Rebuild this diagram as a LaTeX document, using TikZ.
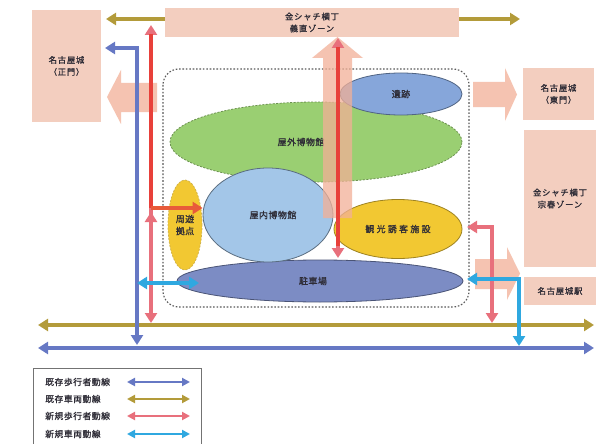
\documentclass[tikz,border=0pt]{standalone}
\usepackage{fontspec}
\setmainfont{Noto Sans CJK JP}[FakeBold=1.2]
\usetikzlibrary{arrows.meta,shapes.geometric}
\definecolor{boxpink}{HTML}{F3CEBF}
\definecolor{bigarrow}{HTML}{F2B097}
\definecolor{lnolive}{HTML}{B39B3A}
\definecolor{lnblue}{HTML}{6678C4}
\definecolor{lnred}{HTML}{E8707C}
\definecolor{lnredd}{HTML}{E8403A}
\definecolor{lnorange}{HTML}{E85A3A}
\definecolor{lncyan}{HTML}{2FA8E0}
\definecolor{elgreen}{HTML}{9ACF72}
\definecolor{elblue}{HTML}{86A6DA}
\definecolor{ellight}{HTML}{A3C6E8}
\definecolor{elyellow}{HTML}{F2C832}
\definecolor{elpark}{HTML}{7C8CC4}
\definecolor{txt}{HTML}{2E2C36}
\newcommand{\boxfont}{\fontsize{8.3}{12}\selectfont\addfontfeatures{LetterSpace=10}}
\newcommand{\ellfont}{\fontsize{9}{12}\selectfont\addfontfeatures{LetterSpace=5}}
\tikzset{
  ftip/.tip={Triangle[width=12pt,length=10pt]},
  ltip/.tip={Triangle[width=8pt,length=8pt]},
  zone/.style={fill=boxpink, draw=none, font=\boxfont, text=txt, align=center, inner sep=0pt},
  ell/.style={ellipse, line width=0.8pt, inner sep=0pt, font=\ellfont, text=txt, align=center},
  elllab/.style={font=\ellfont, text=txt, align=center, inner sep=0pt},
  bigarr/.style={fill=bigarrow, draw=none, opacity=0.75},
  flow/.style={line width=3.8pt, arrows={ftip-ftip}},
  flowend/.style={line width=3.8pt, arrows={-ftip}},
  legflow/.style={line width=2.6pt, arrows={ltip-ltip}},
  legtxt/.style={anchor=west, font=\fontsize{8.8}{10}\selectfont\addfontfeatures{LetterSpace=6}, text=txt, inner sep=0pt},
}
\begin{document}
\begin{tikzpicture}[x=1pt,y=-1pt]
\useasboundingbox (0,0) rectangle (608,444);
\fill[white] (0,0) rectangle (608,444);

% olive top line (under the top box)
\coordinate (ot1) at (106,19);
\coordinate (ot2) at (520,19);
\draw[flow, lnolive] (ot1) -- (ot2);

% zone boxes
\node[zone, minimum width=69pt, minimum height=112pt] (seimon) at (66.5,66) {名古屋城\\（正門）};
\node[zone, minimum width=294pt, minimum height=29pt] (yoshi) at (312,22.5) {金シャチ横丁\\義直ゾーン};
\node[zone, minimum width=71pt, minimum height=52pt] (tomon) at (558.5,94) {名古屋城\\（東門）};
\node[zone, minimum width=72pt, minimum height=137pt] (mune) at (560,198.5) {金シャチ横丁\\宗春ゾーン};
\node[zone, minimum width=72pt, minimum height=28pt] (eki) at (560,291) {名古屋城駅};

% dotted area
\draw[line width=1.1pt, dash pattern=on 1.6pt off 1.8pt, color=black!65, rounded corners=16pt] (163,69) rectangle (469,307);

% ellipses
\node[ell, draw=elgreen!70!black, fill=elgreen, dash pattern=on 2pt off 1.5pt, minimum width=292pt, minimum height=80pt,
      label={[elllab]center:{\hspace*{-30pt}屋外博物館}}] (outm) at (316,142) {};
\node[ell, draw=elblue!60!black, fill=elblue, minimum width=122pt, minimum height=42pt] (iseki) at (401,94) {遺跡};
\node[ell, draw=elyellow!70!gray, fill=elyellow, dash pattern=on 2pt off 1.5pt, minimum width=34pt, minimum height=90pt] (shuyu) at (185,225) {周遊\\拠点};
\node[ell, draw=elpark!60!black, fill=elpark, minimum width=286pt, minimum height=42pt,
      label={[elllab]center:{\hspace*{-14pt}駐車場}}] (park) at (320,281) {};
\node[ell, draw=ellight!55!black, fill=ellight, minimum width=130pt, minimum height=94pt,
      label={[elllab]center:{\hspace*{10pt}屋内博物館}}] (inm) at (268,215) {};
\node[ell, draw=elyellow!65!black, fill=elyellow, minimum width=128pt, minimum height=59pt] (kanko) at (398,229) {\addfontfeatures{LetterSpace=25}観光誘客施設};

% big pale arrows
\fill[bigarr] (157,83) -- (121,83) -- (121,70) -- (107,97) -- (121,124) -- (121,112) -- (157,112) -- cycle;
\fill[bigarr] (323,218) -- (323,58) -- (312,58) -- (337.5,37) -- (363,58) -- (352,58) -- (352,218) -- cycle;
\fill[bigarr] (473,82) -- (505,82) -- (505,68) -- (517,94.5) -- (505,121) -- (505,107) -- (473,107) -- cycle;
\fill[bigarr] (475,259) -- (507,259) -- (507,247) -- (520,273.5) -- (507,300) -- (507,289) -- (475,289) -- cycle;

% bottom lines
\coordinate (ob1) at (38,325);
\coordinate (ob2) at (594,325);
\coordinate (bb1) at (38,348);
\coordinate (bb2) at (594,348);
\draw[flow, lnolive] (ob1) -- (ob2);
\draw[flow, lnblue] (bb1) -- (bb2);

% existing pedestrian (blue) from west gate
\coordinate (b1) at (105,48);
\coordinate (b2) at (137,48);
\coordinate (b3) at (137,345);
\draw[flow, lnblue] (b1) -- (b2) -- (b3);

% new pedestrian (red), left
\coordinate (r1) at (151,25);
\coordinate (r2) at (151,323);
\coordinate (rj) at (151,208);
\coordinate (rm) at (151,234);
\coordinate (rm2) at (151,212);
\draw[flow, lnred] (r1) -- (r2);
\draw[line width=3.8pt, lnredd] (151,34) -- (rj);
\draw[flowend, lnred] (rm) -- (rm2);
\draw[flowend, lnorange] (rj) -- (rj -| inm.west);

% new pedestrian (red), centre
\coordinate (c1) at (338,38);
\coordinate (c2) at (338,258);
\draw[flow, lnred] (c1) -- (c2);
\draw[line width=3.8pt, lnredd] (338,47) -- (338,246);

% new pedestrian (red), right
\coordinate (rr1) at (467,227);
\coordinate (rr2) at (492,227);
\coordinate (rr3) at (492,323);
\draw[flow, lnred] (rr1) -- (rr2) -- (rr3);

% new vehicle (cyan)
\coordinate (cl1) at (137,283);
\coordinate (cl2) at (199,283);
\draw[flow, lncyan] (cl1) -- (cl2);
\coordinate (cr1) at (467,279);
\coordinate (cr2) at (519,279);
\coordinate (cr3) at (519,346);
\draw[flow, lncyan] (cr1) -- (cr2) -- (cr3);

% legend
\draw[black!55, line width=0.6pt] (33,368) rectangle (201,450);
\node[legtxt] (l1) at (45,382) {既存歩行者動線};
\node[legtxt] (l2) at (45,399) {既存車両動線};
\node[legtxt] (l3) at (45,416) {新規歩行者動線};
\node[legtxt] (l4) at (45,434) {新規車両動線};
\coordinate (la1) at (127,382); \coordinate (lb1) at (190,382);
\coordinate (la2) at (127,399); \coordinate (lb2) at (190,399);
\coordinate (la3) at (127,416); \coordinate (lb3) at (190,416);
\coordinate (la4) at (127,434); \coordinate (lb4) at (190,434);
\draw[legflow, lnblue] (la1) -- (lb1);
\draw[legflow, lnolive] (la2) -- (lb2);
\draw[legflow, lnred] (la3) -- (lb3);
\draw[legflow, lncyan] (la4) -- (lb4);
\end{tikzpicture}
\end{document}
